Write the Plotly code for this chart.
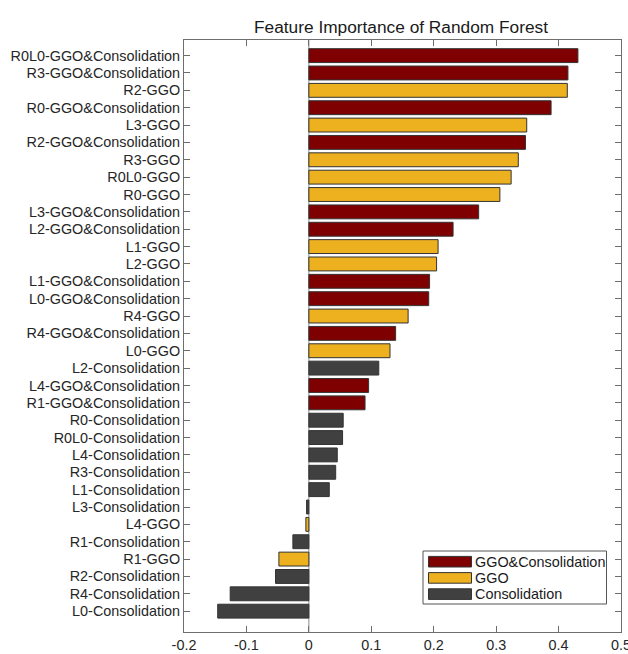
import plotly.graph_objects as go

categories = [
    "R0L0-GGO&Consolidation", "R3-GGO&Consolidation", "R2-GGO", "R0-GGO&Consolidation",
    "L3-GGO", "R2-GGO&Consolidation", "R3-GGO", "R0L0-GGO", "R0-GGO",
    "L3-GGO&Consolidation", "L2-GGO&Consolidation", "L1-GGO", "L2-GGO",
    "L1-GGO&Consolidation", "L0-GGO&Consolidation", "R4-GGO", "R4-GGO&Consolidation",
    "L0-GGO", "L2-Consolidation", "L4-GGO&Consolidation", "R1-GGO&Consolidation",
    "R0-Consolidation", "R0L0-Consolidation", "L4-Consolidation", "R3-Consolidation",
    "L1-Consolidation", "L3-Consolidation", "L4-GGO", "R1-Consolidation", "R1-GGO",
    "R2-Consolidation", "R4-Consolidation", "L0-Consolidation",
]
values = [
    0.431, 0.415, 0.414, 0.388,
    0.349, 0.347, 0.3355, 0.324, 0.306,
    0.272, 0.231, 0.207, 0.2046,
    0.1934, 0.192, 0.159, 0.139,
    0.130, 0.112, 0.0957, 0.090,
    0.055, 0.054, 0.0455, 0.043,
    0.0327, -0.0037, -0.0048, -0.0256, -0.048,
    -0.0534, -0.126, -0.146,
]
groups = [
    "GGO&Consolidation", "GGO&Consolidation", "GGO", "GGO&Consolidation",
    "GGO", "GGO&Consolidation", "GGO", "GGO", "GGO",
    "GGO&Consolidation", "GGO&Consolidation", "GGO", "GGO",
    "GGO&Consolidation", "GGO&Consolidation", "GGO", "GGO&Consolidation",
    "GGO", "Consolidation", "GGO&Consolidation", "GGO&Consolidation",
    "Consolidation", "Consolidation", "Consolidation", "Consolidation",
    "Consolidation", "Consolidation", "GGO", "Consolidation", "GGO",
    "Consolidation", "Consolidation", "Consolidation",
]
group_names = ["GGO&Consolidation", "GGO", "Consolidation"]
group_colors = {"GGO&Consolidation": "#7E0000", "GGO": "#EDB120", "Consolidation": "#404040"}
x_ticks = [-0.2, -0.1, 0, 0.1, 0.2, 0.3, 0.4, 0.5]
title_text = "Feature Importance of Random Forest"

FONT = "Liberation Sans, Arial, sans-serif"
AXC = "#6e6e6e"
FS = 14.4

fig = go.Figure()
for g in group_names:
    ys = [c for c, gg in zip(categories, groups) if gg == g]
    xs = [v for v, gg in zip(values, groups) if gg == g]
    fig.add_trace(go.Bar(
        x=xs, y=ys, orientation="h", name=g, width=0.8,
        marker=dict(color=group_colors[g], line=dict(color="#333333", width=1)),
        showlegend=False,
    ))

# zero line
fig.add_shape(type="line", xref="x", yref="paper", x0=0, x1=0, y0=0, y1=1,
              line=dict(color="#8a8a8a", width=1), layer="below")

W, H = 628, 654
L, R, T, B = 184, 621, 40, 632
pw, ph = R - L, B - T
def dx(x): return (x - L) / pw
def dy(y): return (B - y) / ph

# manual legend (MATLAB-style wide swatches)
fig.add_shape(type="rect", xref="paper", yref="paper",
              x0=dx(423), x1=dx(606.5), y0=dy(604), y1=dy(551),
              line=dict(color="#555555", width=1), fillcolor="white")
for i, g in enumerate(group_names):
    cy = 561.7 + i * 16.2
    fig.add_shape(type="rect", xref="paper", yref="paper",
                  x0=dx(428.5), x1=dx(471.5), y0=dy(cy + 5.3), y1=dy(cy - 5.3),
                  line=dict(color="#333333", width=1), fillcolor=group_colors[g])
    fig.add_annotation(xref="paper", yref="paper", x=dx(473), y=dy(cy),
                       text=g, showarrow=False, xanchor="left", yanchor="middle",
                       font=dict(family=FONT, size=FS, color="#1a1a1a"))

order_bottom_first = list(reversed(categories))
fig.update_layout(
    width=W, height=H,
    margin=dict(l=L, r=W - R, t=T, b=H - B, autoexpand=False),
    paper_bgcolor="white", plot_bgcolor="white",
    barmode="relative",
    font=dict(family=FONT, size=FS, color="#262626"),
    title=dict(text=title_text, x=(254 + 548) / 2 / W, xanchor="center",
               y=1 - 27 / H, yanchor="middle",
               font=dict(family=FONT, size=17.3, color="#1a1a1a")),
    xaxis=dict(range=[-0.2, 0.5], tickvals=x_ticks,
               ticktext=[("%g" % t) for t in x_ticks],
               ticks="inside", ticklen=6, tickcolor=AXC, showline=True, linecolor=AXC,
               linewidth=1, mirror="ticks", showgrid=False, zeroline=False,
               automargin=False, ticklabeloverflow="allow",
               tickfont=dict(family=FONT, size=FS, color="#262626")),
    yaxis=dict(type="category", categoryorder="array", categoryarray=order_bottom_first,
               range=[-1.2, 32.9],
               ticks="inside", ticklen=6, tickcolor=AXC, showline=True, linecolor=AXC,
               linewidth=1, mirror="ticks", showgrid=False, zeroline=False,
               automargin=False, ticklabelstandoff=0,
               tickfont=dict(family=FONT, size=FS, color="#262626")),
)

fig.write_html("out.html", config={"displayModeBar": False},
               post_script="document.body.style.margin='0';")
